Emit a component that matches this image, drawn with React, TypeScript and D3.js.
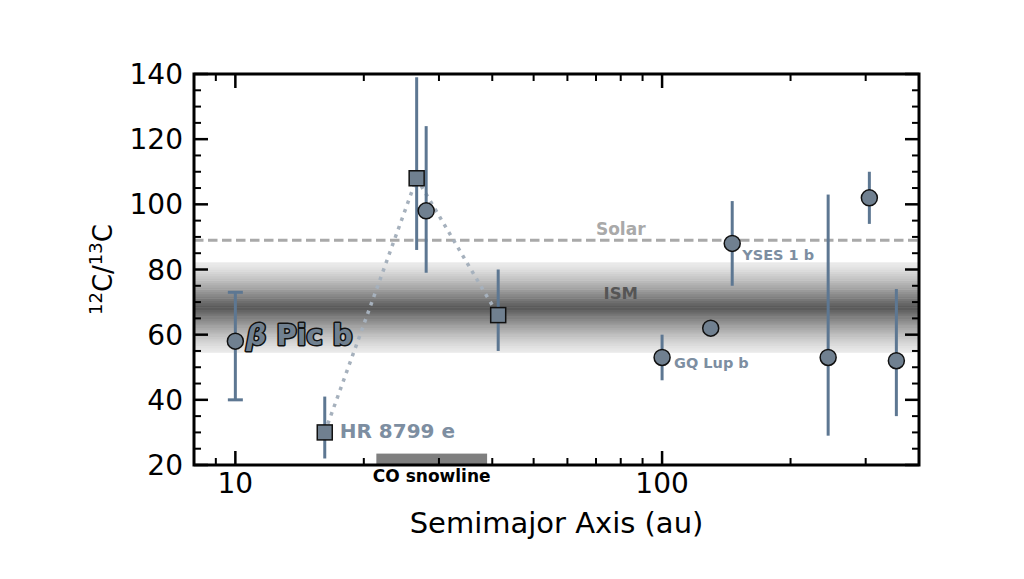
import React from "react";
import * as d3 from "d3";

// Measured carbon isotope ratios of directly imaged companions
const semimajorAU = [10, 16.2, 26.6, 28, 41.3, 100, 130, 146, 245, 306, 354];
const carbonRatio = [58, 30, 108, 98, 66, 53, 62, 88, 53, 102, 52];
const errUpper = [15, 11, 31, 26, 14, 7, 0, 13, 50, 8, 22];
const errLower = [18, 8, 22, 19, 11, 7, 0, 13, 24, 8, 17];
const markerShape = ["circle", "square", "square", "circle", "square", "circle", "circle", "circle", "circle", "circle", "circle"];
const hasCaps = [true, false, false, false, false, false, false, false, false, false, false];

// HR 8799 system members joined by a dotted line (indices above)
const hr8799Members = [1, 2, 4];

// Named companions: index, text, offset of the label from the marker
const companionNames = ["HR 8799 e", "GQ Lup b", "YSES 1 b"];
const companionIndex = [1, 5, 7];
const companionDx = [15, 12, 10];
const companionDy = [6, 11, 17];

// Reference values
const SOLAR_RATIO = 89;
const ISM_RATIO = 68.4;
const ISM_SPREAD = 13.8;
const REF_LABEL_AU = 80;
const CO_SNOWLINE_AU = [21.4, 38.9];
const CO_SNOWLINE_HEIGHT = 3.5;

// Axis definitions
const xDomain = [8, 400];
const yDomain = [20, 140];
const xMajorTicks = [10, 100];
const xMinorTicks = [8, 9, 20, 30, 40, 50, 60, 70, 80, 90, 200, 300, 400];
const yMajorTicks = [20, 40, 60, 80, 100, 120, 140];
const yMinorTicks = d3.range(20, 141, 5).filter((v) => v % 20 !== 0);

const W = 1024;
const H = 579;
const M = { left: 194, right: 919, top: 74, bottom: 465 };

const FONT = "'DejaVu Sans', Verdana, sans-serif";
const ERR_COLOR = "#5d7792";
const MARK_COLOR = "#708090";
const LABEL_COLOR = "#7d8ea1";

// Shading of the ISM band as a function of distance from its centre (0..1)
const ismDarkness = (t: number) => 0.08 + 0.58 * Math.pow(1 - t, 1.3);

export default function App() {
  const x = d3.scaleLog().domain(xDomain).range([M.left, M.right]);
  const y = d3.scaleLinear().domain(yDomain).range([M.bottom, M.top]);

  // ISM band drawn as thin horizontal strips, darkest at the centre
  const ismStrips = 40;
  const stripEdges = d3.range(ismStrips + 1).map((k) => ISM_RATIO - ISM_SPREAD + (2 * ISM_SPREAD * k) / ismStrips);

  const dotted = d3
    .line<number>()
    .x((i) => x(semimajorAU[i]))
    .y((i) => y(carbonRatio[i]))(hr8799Members);

  const majorLen = 14;
  const minorLen = 7;

  return (
    <svg
      width={W}
      height={H}
      style={{ position: "absolute", left: 0, top: 0, background: "#fff" }}
      fontFamily={FONT}
    >
      <defs>
        <clipPath id="plotArea">
          <rect x={M.left} y={M.top} width={M.right - M.left} height={M.bottom - M.top} />
        </clipPath>
      </defs>

      <g clipPath="url(#plotArea)">
        {stripEdges.slice(0, -1).map((lo, k) => {
          const hi = stripEdges[k + 1];
          const t = Math.abs((lo + hi) / 2 - ISM_RATIO) / ISM_SPREAD;
          const g = Math.round(255 * (1 - ismDarkness(t)));
          return (
            <rect
              key={k}
              x={M.left}
              width={M.right - M.left}
              y={y(hi)}
              height={y(lo) - y(hi) + 0.5}
              fill={`rgb(${g},${g},${g})`}
            />
          );
        })}

        {/* CO snowline range */}
        <rect
          x={x(CO_SNOWLINE_AU[0])}
          width={x(CO_SNOWLINE_AU[1]) - x(CO_SNOWLINE_AU[0])}
          y={y(yDomain[0] + CO_SNOWLINE_HEIGHT)}
          height={y(yDomain[0]) - y(yDomain[0] + CO_SNOWLINE_HEIGHT)}
          fill="#7f7f7f"
        />

        {/* Solar value */}
        <line
          x1={M.left}
          x2={M.right}
          y1={y(SOLAR_RATIO)}
          y2={y(SOLAR_RATIO)}
          stroke="#a9a9a9"
          strokeWidth={3}
          strokeDasharray="9.5 4.5"
        />

        {/* HR 8799 planets */}
        <path d={dotted ?? ""} fill="none" stroke="#a6b1bd" strokeWidth={3.5} strokeDasharray="3.5 5.5" />

        {/* Error bars */}
        {semimajorAU.map((a, i) => {
          if (errUpper[i] === 0 && errLower[i] === 0) return null;
          const cx = x(a);
          const y1 = y(carbonRatio[i] + errUpper[i]);
          const y2 = y(carbonRatio[i] - errLower[i]);
          return (
            <g key={i} stroke={ERR_COLOR} strokeWidth={3}>
              <line x1={cx} x2={cx} y1={y1} y2={y2} />
              {hasCaps[i] && (
                <>
                  <line x1={cx - 7.5} x2={cx + 7.5} y1={y1} y2={y1} />
                  <line x1={cx - 7.5} x2={cx + 7.5} y1={y2} y2={y2} />
                </>
              )}
            </g>
          );
        })}

        {/* Markers */}
        {semimajorAU.map((a, i) => {
          const cx = x(a);
          const cy = y(carbonRatio[i]);
          return markerShape[i] === "square" ? (
            <rect key={i} x={cx - 7.5} y={cy - 7.5} width={15} height={15} fill={MARK_COLOR} stroke="#111" strokeWidth={1.5} />
          ) : (
            <circle key={i} cx={cx} cy={cy} r={8} fill={MARK_COLOR} stroke="#111" strokeWidth={1.5} />
          );
        })}
      </g>

      {/* Reference labels */}
      <text x={x(REF_LABEL_AU)} y={y(SOLAR_RATIO) - 5} textAnchor="middle" fontSize={17} fontWeight="bold" fill="#a9a9a9">
        Solar
      </text>
      <text x={x(REF_LABEL_AU)} y={y(ISM_RATIO) - 8} textAnchor="middle" fontSize={16.5} fontWeight="bold" fill="#555">
        ISM
      </text>

      {/* Companion labels */}
      {companionNames.map((name, j) => {
        const i = companionIndex[j];
        const big = j === 0;
        return (
          <text
            key={name}
            x={x(semimajorAU[i]) + companionDx[j]}
            y={y(carbonRatio[i]) + companionDy[j]}
            fontSize={big ? 20 : 14.5}
            fontWeight="bold"
            fill={LABEL_COLOR}
          >
            {name}
          </text>
        );
      })}

      {/* β Pic b, outlined */}
      <text
        x={x(semimajorAU[0]) + 11}
        y={y(carbonRatio[0]) + 4}
        fontSize={28}
        fontWeight="bold"
        fill={MARK_COLOR}
        stroke="#111"
        strokeWidth={3}
        paintOrder="stroke"
        strokeLinejoin="round"
      >
        <tspan fontStyle="italic">β</tspan>
        <tspan> Pic b</tspan>
      </text>

      <text
        x={x(Math.sqrt(CO_SNOWLINE_AU[0] * CO_SNOWLINE_AU[1]))}
        y={M.bottom + 17}
        textAnchor="middle"
        fontSize={17}
        fontWeight="bold"
        fill="#000"
      >
        CO snowline
      </text>

      {/* Ticks on all four sides, pointing inward */}
      <g stroke="#000">
        {yMajorTicks.map((v) => (
          <g key={"ym" + v} strokeWidth={2.5}>
            <line x1={M.left} x2={M.left + majorLen} y1={y(v)} y2={y(v)} />
            <line x1={M.right} x2={M.right - majorLen} y1={y(v)} y2={y(v)} />
          </g>
        ))}
        {yMinorTicks.map((v) => (
          <g key={"yn" + v} strokeWidth={2}>
            <line x1={M.left} x2={M.left + minorLen} y1={y(v)} y2={y(v)} />
            <line x1={M.right} x2={M.right - minorLen} y1={y(v)} y2={y(v)} />
          </g>
        ))}
        {xMajorTicks.map((v) => (
          <g key={"xm" + v} strokeWidth={2.5}>
            <line x1={x(v)} x2={x(v)} y1={M.bottom} y2={M.bottom - majorLen} />
            <line x1={x(v)} x2={x(v)} y1={M.top} y2={M.top + majorLen} />
          </g>
        ))}
        {xMinorTicks.map((v) => (
          <g key={"xn" + v} strokeWidth={2}>
            <line x1={x(v)} x2={x(v)} y1={M.bottom} y2={M.bottom - minorLen} />
            <line x1={x(v)} x2={x(v)} y1={M.top} y2={M.top + minorLen} />
          </g>
        ))}
      </g>

      {/* Frame */}
      <rect
        x={M.left}
        y={M.top}
        width={M.right - M.left}
        height={M.bottom - M.top}
        fill="none"
        stroke="#000"
        strokeWidth={3}
      />

      {/* Tick labels */}
      {yMajorTicks.map((v) => (
        <text key={"yl" + v} x={M.left - 11} y={y(v)} dy="0.36em" textAnchor="end" fontSize={28} fill="#000">
          {v}
        </text>
      ))}
      {xMajorTicks.map((v) => (
        <text key={"xl" + v} x={x(v)} y={M.bottom + 28} textAnchor="middle" fontSize={28} fill="#000">
          {v}
        </text>
      ))}

      {/* Axis titles */}
      <text x={(M.left + M.right) / 2} y={533} textAnchor="middle" fontSize={29} fill="#000">
        Semimajor Axis (au)
      </text>
      <text
        transform={`translate(112, ${(M.top + M.bottom) / 2}) rotate(-90)`}
        textAnchor="middle"
        fontSize={26}
        fill="#000"
      >
        <tspan fontSize={18} dy={-10}>12</tspan>
        <tspan dy={10}>C/</tspan>
        <tspan fontSize={18} dy={-10}>13</tspan>
        <tspan dy={10}>C</tspan>
      </text>
    </svg>
  );
}
